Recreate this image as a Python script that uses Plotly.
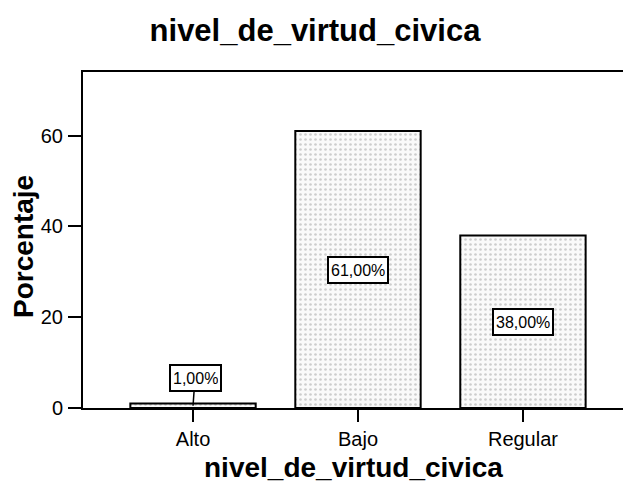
import plotly.graph_objects as go

categories = ["Alto", "Bajo", "Regular"]
percentages = [1.0, 61.0, 38.0]
value_labels = ["1,00%", "61,00%", "38,00%"]
y_tick_values = [0, 20, 40, 60]

FONT = "Liberation Sans, Arial, sans-serif"

# page has an 8px body margin; reference coordinates are shifted accordingly
OFF = 8
PL, PT, PB, PR = 83, 72, 408, 631  # plot area in reference pixels
PW, PH = PR - PL, PB - PT

fig = go.Figure()
fig.add_trace(go.Bar(
    x=[0, 1, 2],
    y=percentages,
    width=0.76,
    marker=dict(
        color="#f4f4f4",
        line=dict(color="black", width=2),
        pattern=dict(shape=".", size=5, solidity=0.22, fgcolor="#a0a0a0", bgcolor="#fafafa"),
    ),
    hoverinfo="skip",
))

annotations = []
for i, (v, lab) in enumerate(zip(percentages, value_labels)):
    common = dict(
        x=i, y=v / 2, xref="x", yref="y", text=lab,
        font=dict(family=FONT, size=16, color="black"),
        bordercolor="black", borderwidth=2, borderpad=2, bgcolor="white",
        height=20,
    )
    if v < 5:
        annotations.append(dict(common, showarrow=True, ax=2, ay=-28,
                                arrowhead=0, arrowwidth=1.5, arrowcolor="black"))
    else:
        annotations.append(dict(common, showarrow=False))

annotations.append(dict(
    x=(353 - PL) / PW, y=-(467 - PB) / PH, xref="paper", yref="paper",
    text="<b>nivel_de_virtud_civica</b>", showarrow=False,
    xanchor="center", yanchor="middle",
    font=dict(family=FONT, size=28, color="black"),
))
annotations.append(dict(
    x=-(PL - 24) / PW, y=(PB - 247) / PH, xref="paper", yref="paper",
    text="<b>Porcentaje</b>", showarrow=False, textangle=-90,
    xanchor="center", yanchor="middle",
    font=dict(family=FONT, size=28, color="black"),
))

W, H = 631, 489
fig.update_layout(
    width=W, height=H,
    margin=dict(l=PL - OFF, r=W - (PR - OFF), t=PT - OFF, b=H - (PB - OFF)),
    paper_bgcolor="white", plot_bgcolor="white",
    showlegend=False,
    title=dict(
        text="<b>nivel_de_virtud_civica</b>",
        x=(315 - OFF) / W, xanchor="center", xref="container",
        y=1 - (30 - OFF) / H, yanchor="middle", yref="container",
        font=dict(family=FONT, size=31, color="black"),
    ),
    annotations=annotations,
    xaxis=dict(
        range=[-0.667, 2.655],
        tickmode="array", tickvals=[0, 1, 2], ticktext=categories,
        ticks="outside", ticklen=12, tickwidth=2, tickcolor="black",
        showline=True, linecolor="black", linewidth=2, mirror=True,
        showgrid=False, zeroline=False,
        tickfont=dict(family=FONT, size=20, color="black"),
        fixedrange=True,
    ),
    yaxis=dict(
        range=[0, 74],
        tickmode="array", tickvals=y_tick_values,
        ticks="outside", ticklen=13, tickwidth=2, tickcolor="black",
        showline=True, linecolor="black", linewidth=2,
        showgrid=False, zeroline=False,
        tickfont=dict(family=FONT, size=20, color="black"),
        ticklabelstandoff=1,
        fixedrange=True,
    ),
)

fig.write_html("out.html")
